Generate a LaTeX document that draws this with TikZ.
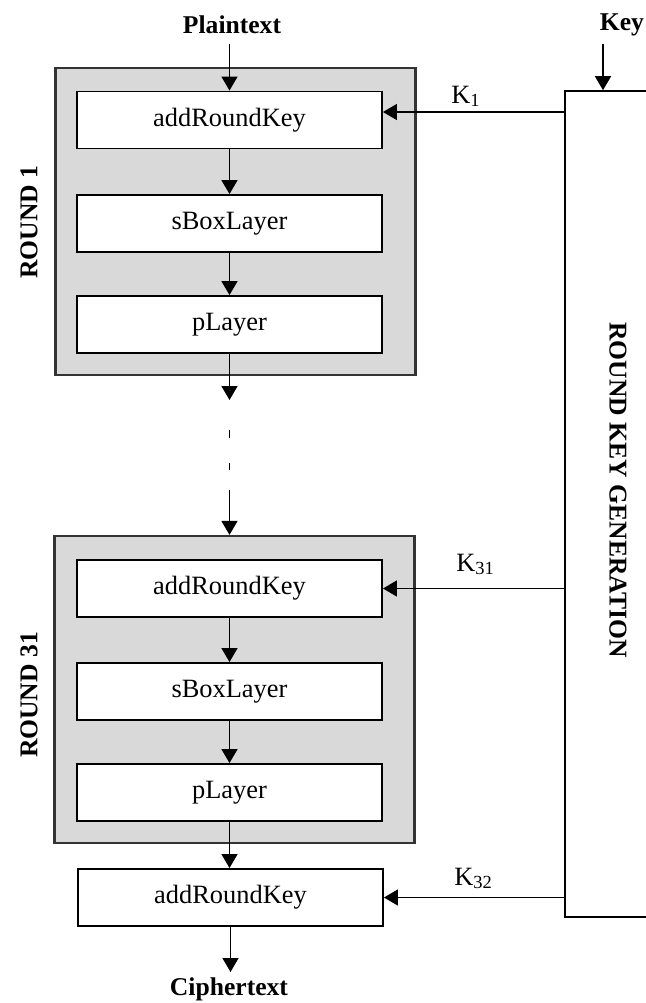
\documentclass[tikz,border=0pt]{standalone}
\usepackage{fontspec}
\setmainfont{Liberation Serif}
\usetikzlibrary{arrows.meta}
\definecolor{roundfill}{HTML}{D9D9D9}
\definecolor{roundedge}{HTML}{333333}
\begin{document}
\begin{tikzpicture}[x=0.5pt,y=-0.5pt,
  every node/.style={font=\fontsize{12.8}{15}\selectfont},
  stage/.style={draw=black, line width=0.95pt, fill=white, inner sep=0pt,
                minimum width=152.5pt, minimum height=28.5pt,
                font=\fontsize{13.2}{15}\selectfont},
  roundbox/.style={draw=roundedge, line width=1.1pt, fill=roundfill, inner sep=0pt,
                   minimum width=180pt, minimum height=153.5pt},
  arr/.style={line width=0.75pt, -{Triangle[length=7pt,width=8pt]}},
  title/.style={font=\fontsize{12.8}{15}\selectfont\bfseries, inner sep=0pt},
  klabel/.style={anchor=base west, inner sep=0pt, font=\fontsize{13.2}{15}\selectfont},
  wire/.style={line width=0.75pt}]
\useasboundingbox (0,0) rectangle (646,1003);
\clip (0,0) rectangle (646,1003);

% round containers
\node[roundbox] (r1)  at (235.5,221.5) {};
\node[roundbox] (r31) at (234.5,689.5) {};

% round 1 stages
\node[stage] (ark1) at (229.5,120)   {addRoundKey};
\node[stage] (sbl1) at (229.5,223.5) {sBoxLayer};
\node[stage] (pl1)  at (229.5,324.5) {pLayer};

% round 31 stages
\node[stage] (ark31) at (229.5,588.5) {addRoundKey};
\node[stage] (sbl31) at (229.5,691.5) {sBoxLayer};
\node[stage] (pl31)  at (229.5,792.5) {pLayer};

% final key whitening
\node[stage] (ark32) at (230.5,897.5) {addRoundKey};

% key schedule block (right side runs off the page)
\node[draw, line width=0.8pt, inner sep=0pt, minimum width=75pt, minimum height=413pt] (kg) at (640,504) {};
\node[title, rotate=-90] (kgl) at (618,490) {ROUND KEY GENERATION};

% inputs, outputs and side labels
\node[title] (pt)  at (232,25)  {Plaintext};
\node[title] (ct)  at (229,989) {Ciphertext};
\node[title] (key) at (622,25)  {Key};
\node[title, rotate=90] (lab1)  at (29,222) {ROUND 1};
\node[title, rotate=90] (lab31) at (29,695) {ROUND 31};

% free ends of connectors
\coordinate (ptin)  at (229.5,44);
\coordinate (keyin) at (603,44);
\coordinate (ctout) at (230.5,972);

% data path
\draw[arr] (ptin) -- (ark1.north);
\draw[arr] (ark1.south) -- (sbl1.north);
\draw[arr] (sbl1.south) -- (pl1.north);
\draw[arr] (pl1.south) -- (pl1.south |- 0,400);
\draw[wire] (pl1.south |- 0,430) -- (pl1.south |- 0,438);
\draw[wire] (pl1.south |- 0,463) -- (pl1.south |- 0,470);
\draw[arr] (pl1.south |- 0,490) -- (pl1.south |- r31.north);
\draw[arr] (ark31.south) -- (sbl31.north);
\draw[arr] (sbl31.south) -- (pl31.north);
\draw[arr] (pl31.south) -- (pl31.south |- ark32.north);
\draw[arr] (ark32.south) -- (ctout);

% key path
\draw[arr] (keyin) -- (keyin |- kg.north);
\draw[arr] (kg.west |- 0,112) -- (ark1.east |- 0,112);
\draw[arr] (kg.west |- ark31.east) -- (ark31.east);
\draw[arr] (kg.west |- ark32.east) -- (ark32.east);

% round key labels
\node[klabel] (k1)  at (451,103) {K\textsubscript{1}};
\node[klabel] (k31) at (456,571) {K\textsubscript{31}};
\node[klabel] (k32) at (454,885) {K\textsubscript{32}};
\end{tikzpicture}
\end{document}
